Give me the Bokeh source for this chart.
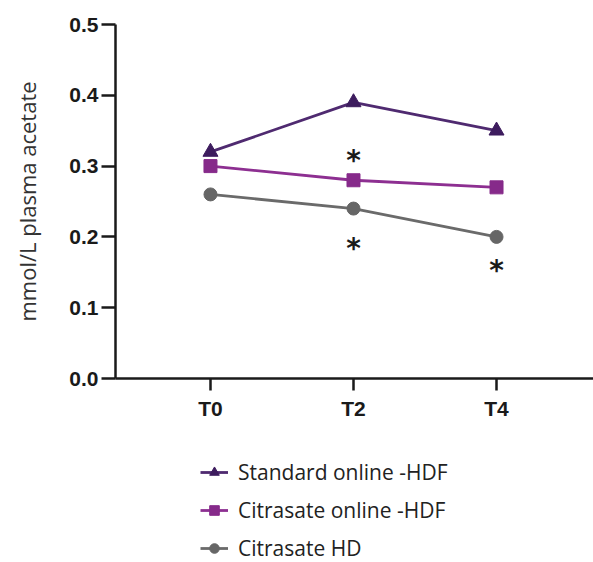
from bokeh.plotting import figure
from bokeh.layouts import column
from bokeh.models import (Range1d, FixedTicker, Legend, LegendItem, ColumnDataSource)
from bokeh.core.properties import value
from bokeh.embed import file_html
from bokeh.resources import INLINE

# Time points and plasma acetate (mmol/L) per dialysis modality
timepoints = ["T0", "T2", "T4"]
standard_hdf = [0.32, 0.39, 0.35]
citrasate_hdf = [0.30, 0.28, 0.27]
citrasate_hd = [0.26, 0.24, 0.20]

# Significance markers: (time index, height)
sig_x = [1, 1, 2]
sig_y = [0.313, 0.189, 0.158]

x_idx = list(range(len(timepoints)))

series = [
    ("Standard online -HDF", standard_hdf, "#4f2a70", "#3d1c5e", "triangle", 15),
    ("Citrasate online -HDF", citrasate_hdf, "#8d2f91", "#862a8a", "square", 13),
    ("Citrasate HD", citrasate_hd, "#6a6a6a", "#666666", "circle", 13),
]

TOP_H = 423
p = figure(
    width=593, height=TOP_H,
    x_range=Range1d(-0.664, 2.678), y_range=Range1d(0, 0.5),
    output_backend="svg", toolbar_location=None,
    min_border_left=115, min_border_right=0,
    min_border_top=24, min_border_bottom=TOP_H - 24 - 354,
)
p.outline_line_color = None
p.xgrid.visible = False
p.ygrid.visible = False

# Axes
for ax in (p.xaxis[0], p.yaxis[0]):
    ax.axis_line_width = 2.5
    ax.axis_line_color = "#1a1a1a"
    ax.major_tick_line_width = 2.5
    ax.major_tick_line_color = "#1a1a1a"
    ax.minor_tick_line_color = None
    ax.major_tick_in = 0
    ax.major_label_text_font = "Liberation Sans"
    ax.major_label_text_font_style = "bold"
    ax.major_label_text_font_size = "21px"
    ax.major_label_text_color = "#1a1a1a"

p.xaxis.ticker = FixedTicker(ticks=x_idx)
p.xaxis.major_label_overrides = {i: t for i, t in zip(x_idx, timepoints)}
p.xaxis.major_tick_out = 12
p.xaxis.major_label_standoff = 6

p.yaxis.ticker = FixedTicker(ticks=[0.0, 0.1, 0.2, 0.3, 0.4, 0.5])
p.yaxis.major_label_overrides = {0.0: "0.0", 0.1: "0.1", 0.2: "0.2", 0.3: "0.3", 0.4: "0.4", 0.5: "0.5"}
p.yaxis.major_tick_out = 14
p.yaxis.major_label_standoff = 3
p.yaxis.axis_label = "mmol/L plasma acetate"
p.yaxis.axis_label_text_font = "Open Sans"
p.yaxis.axis_label_text_font_style = "normal"
p.yaxis.axis_label_text_font_size = "22px"
p.yaxis.axis_label_text_color = "#333333"
p.yaxis.axis_label_standoff = 24

for label, vals, lcol, mcol, marker, size in series:
    src = ColumnDataSource(dict(x=x_idx, y=vals))
    p.line("x", "y", source=src, line_color=lcol, line_width=2.8)
    p.scatter("x", "y", source=src, marker=marker, size=size,
              fill_color=mcol, line_color=mcol)

# Significance asterisks
p.text(x=sig_x, y=sig_y, text=["*"] * len(sig_x),
       text_font=value("DejaVu Sans"), text_font_style="bold",
       text_font_size="28px", text_color="#1a1a1a",
       text_align="center", text_baseline="middle", y_offset=4)

# Legend panel underneath the chart; its own renderers sit outside the
# visible ranges so only the legend entries show.
LEG_H = 562 - TOP_H
q = figure(
    width=593, height=LEG_H,
    x_range=Range1d(100, 200), y_range=Range1d(100, 200),
    output_backend="svg", toolbar_location=None,
    x_axis_location=None, y_axis_location=None,
    min_border=0,
)
q.outline_line_color = None
q.xgrid.visible = False
q.ygrid.visible = False

items = []
for label, vals, lcol, mcol, marker, size in series:
    src = ColumnDataSource(dict(x=x_idx, y=vals))
    lr = q.line("x", "y", source=src, line_color=lcol, line_width=2.8)
    sr = q.scatter("x", "y", source=src, marker=marker, size=size * 0.8,
                   fill_color=mcol, line_color=mcol)
    items.append(LegendItem(label=label, renderers=[lr, sr]))

legend = Legend(
    items=items, location=(85, 0),
    orientation="vertical",
    glyph_width=28, glyph_height=24, label_height=24, spacing=10,
    label_standoff=10, padding=0, margin=0,
    border_line_color=None, background_fill_alpha=0,
    label_text_font="Open Sans", label_text_font_size="21px",
    label_text_color="#222222",
)
q.add_layout(legend, "center")

open("out.html", "w").write(file_html(column(p, q, spacing=0), INLINE))
